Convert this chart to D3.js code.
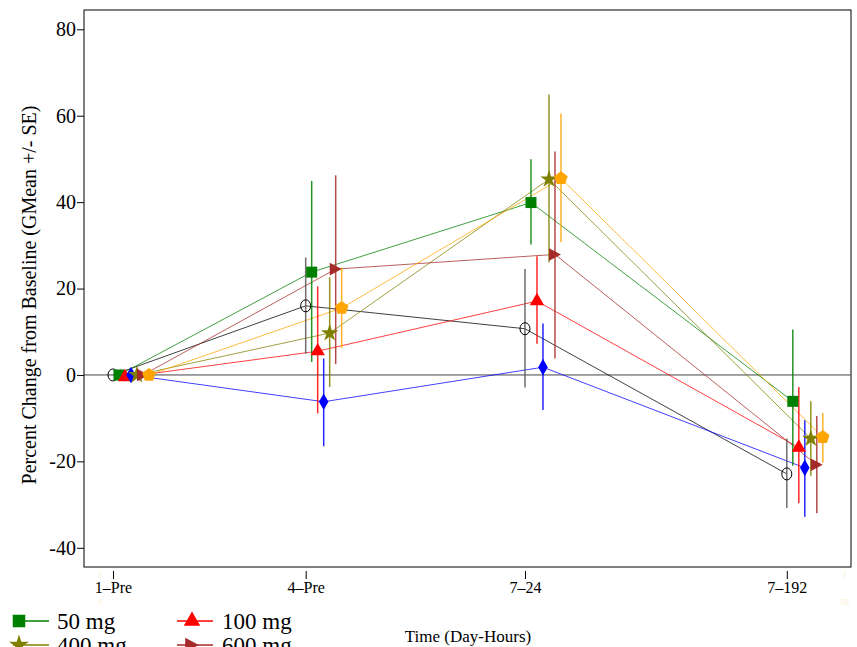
<!DOCTYPE html>
<html><head>
<meta charset="utf-8">
<script src="https://d3js.org/d3.v7.min.js"></script>
<style>
body { margin: 0; background: white; }
svg { display: block; }
.tick text { font-family: "Liberation Serif", "Times New Roman", serif; }
</style>
</head><body>
<svg id="chart" width="857" height="647"></svg>
<script>
// time points (label + position on the numeric x axis)
var times = ["1\u2013Pre", "4\u2013Pre", "7\u201324", "7\u2013192"];
var timeVals = [1, 15.5, 32, 51.7];

// series: geometric mean % change and SE bounds
var names = ["Placebo", "50 mg", "100 mg", "200 mg", "400 mg", "600 mg", "800 mg"];
var means = [
  [0, 16.0, 10.7, -22.9],
  [0, 23.8, 39.9, -6.1],
  [-0.5, 5.5, 17.1, -16.8],
  [0, -6.2, 1.8, -21.5],
  [0, 9.7, 45.3, -14.7],
  [0, 24.5, 27.9, -20.8],
  [0, 15.5, 45.5, -14.4]
];
var lows = [
  [0, 4.9, -2.9, -30.8],
  [0, 3.0, 30.2, -21.0],
  [-0.5, -8.9, 7.2, -29.7],
  [0, -16.5, -8.1, -32.8],
  [0, -2.8, 26.1, -23.3],
  [0, 2.5, 3.8, -32.0],
  [0, 6.3, 30.7, -20.3]
];
var highs = [
  [0, 27.2, 24.5, -14.7],
  [0, 44.9, 49.9, 10.5],
  [-0.5, 20.5, 27.5, -2.8],
  [0, 3.8, 11.9, -10.5],
  [0, 22.6, 64.9, -6.1],
  [0, 46.2, 51.7, -9.5],
  [0, 24.9, 60.5, -8.8]
];
var yTicks = [-40, -20, 0, 20, 40, 60, 80];

var colors = ["#000000", "#008000", "#ff0000", "#0000ff", "#808000", "#a52a2a", "#ffa500"];
var barColors = ["#555555", "#008000", "#ff0000", "#0000ff", "#808000", "#a52a2a", "#ffa500"];

var plotL = 84, plotR = 851, plotT = 10, plotB = 567;

var svg = d3.select("#chart");

var x = d3.scaleLinear().domain([-1.18, 56.53]).range([plotL, plotR]);
var y = d3.scaleLinear().domain([80, -40]).range([29.3, 547.8]);
// small horizontal dodge per series (pixels)
var dodge = d3.scalePoint().domain(names).range([0, 36]);

// frame
svg.append("rect")
  .attr("x", plotL).attr("y", plotT)
  .attr("width", plotR - plotL).attr("height", plotB - plotT)
  .attr("fill", "none").attr("stroke", "#000").attr("stroke-width", 1);

// zero line
svg.append("line")
  .attr("x1", plotL).attr("x2", plotR)
  .attr("y1", y(0)).attr("y2", y(0))
  .attr("stroke", "#444").attr("stroke-width", 1);

// y axis
var ya = svg.append("g")
  .attr("transform", "translate(" + plotL + ",0)")
  .call(d3.axisLeft(y).tickValues(yTicks).tickSize(7).tickPadding(1)
    .tickFormat(function(d) { return d < 0 ? "-" + Math.abs(d) : d; }));
ya.select(".domain").remove();
ya.selectAll("text").attr("font-size", 20).attr("fill", "#000");

// x axis below frame, no domain line
var xa = svg.append("g")
  .attr("transform", "translate(0," + (plotB + 4) + ")")
  .call(d3.axisBottom(x).tickValues(timeVals).tickSize(8).tickPadding(3)
    .tickFormat(function(d, i) { return times[i]; }));
xa.select(".domain").remove();
xa.selectAll("text")
  .attr("font-family", "Liberation Sans, Arial, sans-serif")
  .attr("font-size", 16).attr("fill", "#000");

// faint end labels
var fa = svg.append("g")
  .attr("transform", "translate(0," + (plotB + 4) + ")")
  .call(d3.axisBottom(x).tickValues([0, 56]).tickSize(8).tickPadding(20));
fa.select(".domain").remove();
fa.selectAll("line").attr("stroke", "#fbf0dc");
fa.selectAll("text").attr("fill", "#fbefd6").attr("font-size", 9);

// axis titles
svg.append("text")
  .attr("transform", "translate(36,295) rotate(-90)")
  .attr("text-anchor", "middle")
  .attr("font-family", "Liberation Serif, Times New Roman, serif")
  .attr("font-size", 20)
  .text("Percent Change from Baseline (GMean +/- SE)");

svg.append("text")
  .attr("x", 468).attr("y", 642)
  .attr("text-anchor", "middle")
  .attr("font-family", "Liberation Serif, Times New Roman, serif")
  .attr("font-size", 17)
  .text("Time (Day-Hours)");

// marker shapes
var rightTri = { draw: function(ctx, size) {
  var h = Math.sqrt(size) * 1.1, w = h * 0.95;
  ctx.moveTo(w / 2, 0); ctx.lineTo(-w / 2, -h / 2); ctx.lineTo(-w / 2, h / 2); ctx.closePath();
}};
var pentagon = { draw: function(ctx, size) {
  var r = Math.sqrt(size) * 0.62;
  for (var k = 0; k < 5; k++) {
    var a = -Math.PI / 2 + k * 2 * Math.PI / 5;
    if (k === 0) ctx.moveTo(r * Math.cos(a), r * Math.sin(a));
    else ctx.lineTo(r * Math.cos(a), r * Math.sin(a));
  }
  ctx.closePath();
}};
var shapes = [null, d3.symbolSquare, d3.symbolTriangle, d3.symbolDiamond, d3.symbolStar, rightTri, pentagon];
var sizes = [0, 121, 90, 80, 95, 130, 130];

function px(si, ti) { return x(timeVals[ti]) + dodge(names[si]); }

var line = d3.line();

names.forEach(function(name, si) {
  var pts = means[si].map(function(v, ti) { return [px(si, ti), y(v)]; });
  svg.append("path")
    .attr("d", line(pts))
    .attr("fill", "none")
    .attr("stroke", colors[si])
    .attr("stroke-opacity", 0.75)
    .attr("stroke-width", 1);
});

names.forEach(function(name, si) {
  svg.append("g").selectAll("line")
    .data(means[si])
    .enter().append("line")
    .attr("x1", function(d, ti) { return px(si, ti); })
    .attr("x2", function(d, ti) { return px(si, ti); })
    .attr("y1", function(d, ti) { return y(lows[si][ti]); })
    .attr("y2", function(d, ti) { return y(highs[si][ti]); })
    .attr("stroke", barColors[si])
    .attr("stroke-opacity", 0.85)
    .attr("stroke-width", 1.5);
});

names.forEach(function(name, si) {
  var g = svg.append("g");
  if (si === 0) {
    g.selectAll("ellipse").data(means[si]).enter().append("ellipse")
      .attr("cx", function(d, ti) { return px(si, ti); })
      .attr("cy", function(d) { return y(d); })
      .attr("rx", 5).attr("ry", 6)
      .attr("fill", "none").attr("stroke", "#000").attr("stroke-width", 1);
  } else {
    g.selectAll("path").data(means[si]).enter().append("path")
      .attr("d", d3.symbol().type(shapes[si]).size(sizes[si]))
      .attr("transform", function(d, ti) { return "translate(" + px(si, ti) + "," + y(d) + ")"; })
      .attr("fill", colors[si]);
  }
});

// legend (second row runs off the bottom edge, as in the original)
var legendItems = [1, 2, 4, 5];
var legendX = [13, 177];
var legendY = [621, 645];
legendItems.forEach(function(si, k) {
  var lx = legendX[k % 2], ly = legendY[Math.floor(k / 2)];
  var g = svg.append("g").attr("transform", "translate(" + lx + "," + ly + ")");
  g.append("line").attr("x1", 0).attr("x2", 36).attr("y1", 0).attr("y2", 0)
    .attr("stroke", colors[si]).attr("stroke-width", 1.5);
  g.append("path")
    .attr("d", d3.symbol().type(shapes[si]).size(sizes[si] * 1.3))
    .attr("transform", "translate(" + (k % 2 ? 15 : 6) + ",0)")
    .attr("fill", colors[si]);
  g.append("text")
    .attr("x", k % 2 ? 45 : 44).attr("y", 8)
    .attr("font-family", "Liberation Serif, Times New Roman, serif")
    .attr("font-size", 23)
    .text(names[si]);
});
</script>
</body></html>
